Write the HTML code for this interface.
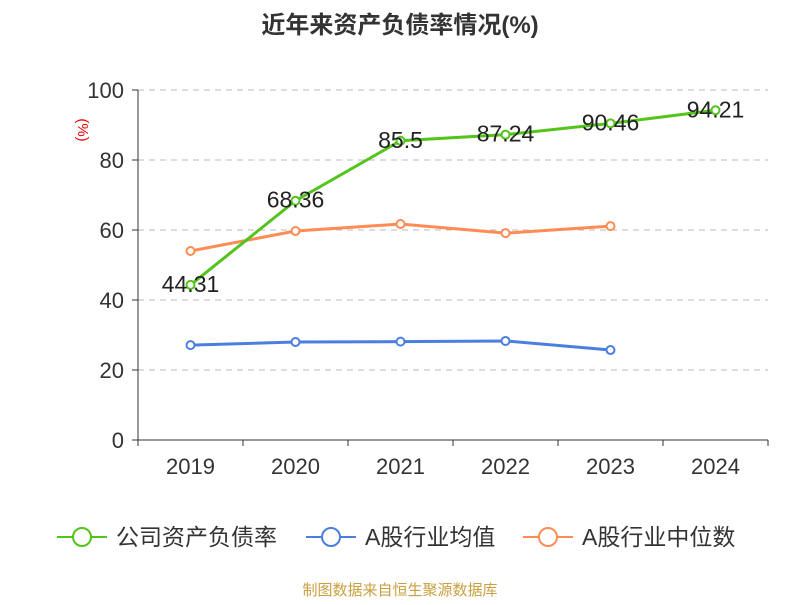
<!DOCTYPE html>
<html><head><meta charset="utf-8">
<style>
body{margin:0;background:#fff;}
svg text{font-family:"Liberation Sans","Noto Sans CJK SC",sans-serif;}
</style></head>
<body>
<svg id="chart" width="800" height="600" xmlns="http://www.w3.org/2000/svg">
<text x="400" y="33" text-anchor="middle" font-size="24" font-weight="bold" fill="#333">近年来资产负债率情况(%)</text>
<text x="82" y="126" text-anchor="middle" font-size="15" fill="#e00" transform="rotate(90 78 126)">(%)</text>
<g id="grid"></g><g id="axes"></g><g id="series"></g>
<g>
 <g><line x1="57" y1="537" x2="107" y2="537" stroke="#52c41a" stroke-width="2"/><circle cx="82" cy="537" r="9" fill="#fff" stroke="#52c41a" stroke-width="2"/><text x="116" y="545" font-size="23" fill="#333">公司资产负债率</text></g>
 <g><line x1="306" y1="537" x2="356" y2="537" stroke="#4a7fe0" stroke-width="2"/><circle cx="331" cy="537" r="9" fill="#fff" stroke="#4a7fe0" stroke-width="2"/><text x="365" y="545" font-size="23" fill="#333">A股行业均值</text></g>
 <g><line x1="523" y1="537" x2="573" y2="537" stroke="#ff8c55" stroke-width="2"/><circle cx="548" cy="537" r="9" fill="#fff" stroke="#ff8c55" stroke-width="2"/><text x="582" y="545" font-size="23" fill="#333">A股行业中位数</text></g>
</g>
<text x="400" y="595" text-anchor="middle" font-size="15" fill="#c8a040">制图数据来自恒生聚源数据库</text>
</svg>
<script>
const categories=["2019","2020","2021","2022","2023","2024"];
const companyValues=[44.31,68.36,85.5,87.24,90.46,94.21];
const avgValues=[27.1,28.0,28.1,28.3,25.7,null];
const medianValues=[54.0,59.7,61.7,59.1,61.1,null];
const yTicks=[0,20,40,60,80,100];
const NS="http://www.w3.org/2000/svg";
const x0=138,x1=768,y0=440,y1=90,yMax=100;
const band=(x1-x0)/categories.length;
const xs=i=>x0+band*(i+0.5);
const ys=v=>y0-(v/yMax)*(y0-y1);
function mk(t,a,p){const e=document.createElementNS(NS,t);for(const k in a)e.setAttribute(k,a[k]);p.appendChild(e);return e;}
const grid=document.getElementById('grid'),axes=document.getElementById('axes'),ser=document.getElementById('series');
yTicks.forEach(t=>{
 if(t>0){const g=mk('line',{x1:x0,x2:x1,y1:ys(t),y2:ys(t),stroke:'#bbb','stroke-dasharray':'6,5'},grid);
 
 }
 const l=mk('text',{x:x0-14,y:ys(t)+8,'text-anchor':'end','font-size':22,fill:'#333'},axes);l.textContent=t;
 
 
 const tk=mk('line',{x1:x0-6,x2:x0,y1:ys(t),y2:ys(t),stroke:'#333'},axes);
 
 
});
const ya=mk('line',{x1:x0,x2:x0,y1:y1,y2:y0,stroke:'#333'},axes);


const xa=mk('line',{x1:x0,x2:x1,y1:y0,y2:y0,stroke:'#333'},axes);


for(let i=0;i<=categories.length;i++){const tk=mk('line',{x1:x0+band*i,x2:x0+band*i,y1:y0,y2:y0+6,stroke:'#333'},axes);
 
 }
categories.forEach((c,i)=>{const t=mk('text',{x:xs(i),y:y0+34,'text-anchor':'middle','font-size':22,fill:'#333'},axes);t.textContent=c;
 
 });
function drawSeries(vals,color,name,labels){
 const pts=[];vals.forEach((v,i)=>{if(v!=null)pts.push([xs(i),ys(v),v]);});
 const p=mk('polyline',{points:pts.map(q=>q[0]+','+q[1]).join(' '),fill:'none',stroke:color,'stroke-width':3},ser);
 
 
 pts.forEach(q=>{const c=mk('circle',{cx:q[0],cy:q[1],r:4,fill:'#fff',stroke:color,'stroke-width':2},ser);
  
  
  if(labels){const t=mk('text',{x:q[0],y:q[1]+7,'text-anchor':'middle','font-size':23,fill:'#222'},ser);t.textContent=q[2];
  
  }
 });
}
drawSeries(avgValues,'#4a7fe0','industry-avg',false);
drawSeries(medianValues,'#ff8c55','industry-median',false);
drawSeries(companyValues,'#52c41a','company',true);
</script>
</body></html>
